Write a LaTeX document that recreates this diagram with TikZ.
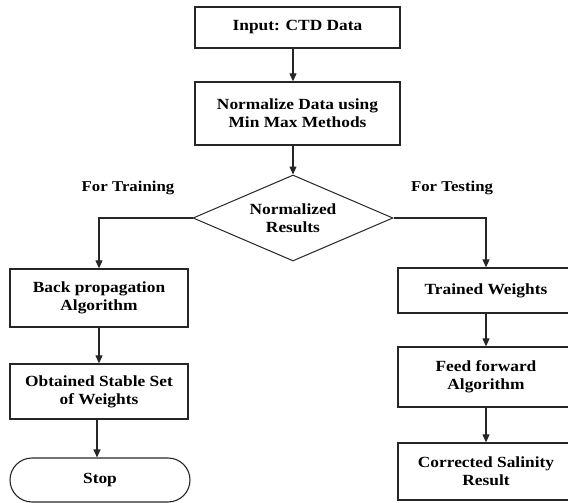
\documentclass[tikz,border=0pt]{standalone}
\usepackage{fontspec}
\setmainfont{Liberation Serif}[FakeStretch=1.12]
\usetikzlibrary{shapes.geometric,arrows.meta}
\begin{document}
\begin{tikzpicture}[x=1pt,y=-1pt,
  every node/.style={font=\fontsize{15.5}{18}\selectfont\bfseries, align=center, inner sep=0pt},
  box/.style={draw=black!85, line width=1.3pt, rectangle},
  stopbox/.style={draw=black!85, line width=1.1pt, rectangle, rounded corners=22pt},
  decbox/.style={draw=black!85, line width=1pt, diamond, aspect=2.33, minimum width=200pt, minimum height=86pt},
  arr/.style={draw=black!85, line width=1.1pt, -{Triangle[length=8pt,width=7pt]}},
  lbl/.style={font=\fontsize{15}{18}\selectfont\bfseries}
]
\useasboundingbox (0,0) rectangle (568,503);
\clip (0,0) rectangle (568,503);
\node[box, minimum width=205pt, minimum height=41pt] (in) at (297.5,27.5) {Input: CTD Data};
\node[box, minimum width=205pt, minimum height=63pt] (norm) at (297.5,113.5) {Normalize Data using\\Min Max Methods};
\node[decbox] (dec) at (293,218) {Normalized\\Results};
\node[box, minimum width=178pt, minimum height=58pt] (bp) at (99,298) {Back propagation\\Algorithm};
\node[box, minimum width=178pt, minimum height=55pt] (ob) at (99,391.5) {Obtained Stable Set\\of Weights};
\node[stopbox, minimum width=180pt, minimum height=44pt] (stop) at (100,480) {Stop};
\node[box, minimum width=176pt, minimum height=45pt] (tw) at (486,290.5) {Trained Weights};
\node[box, minimum width=176pt, minimum height=60pt] (ff) at (486,377) {Feed forward\\Algorithm};
\node[box, minimum width=176pt, minimum height=57pt] (cs) at (486,471.5) {Corrected Salinity\\Result};
\node[lbl] (ltr) at (128,188) {For Training};
\node[lbl] (lte) at (452,188) {For Testing};
\draw[arr] (in.south -| dec.north) -- (norm.north -| dec.north);
\draw[arr] (norm.south -| dec.north) -- (dec.north);
\draw[arr] (dec.west) -| (bp.north);
\draw[arr] (dec.east) -| (tw.north);
\draw[arr] (bp) -- (ob);
\draw[arr] (ob.south -| stop.north) ++(-3,0) coordinate (obs) -- (obs |- stop.north);
\draw[arr] (tw) -- (ff);
\draw[arr] (ff) -- (cs);
\end{tikzpicture}
\end{document}
